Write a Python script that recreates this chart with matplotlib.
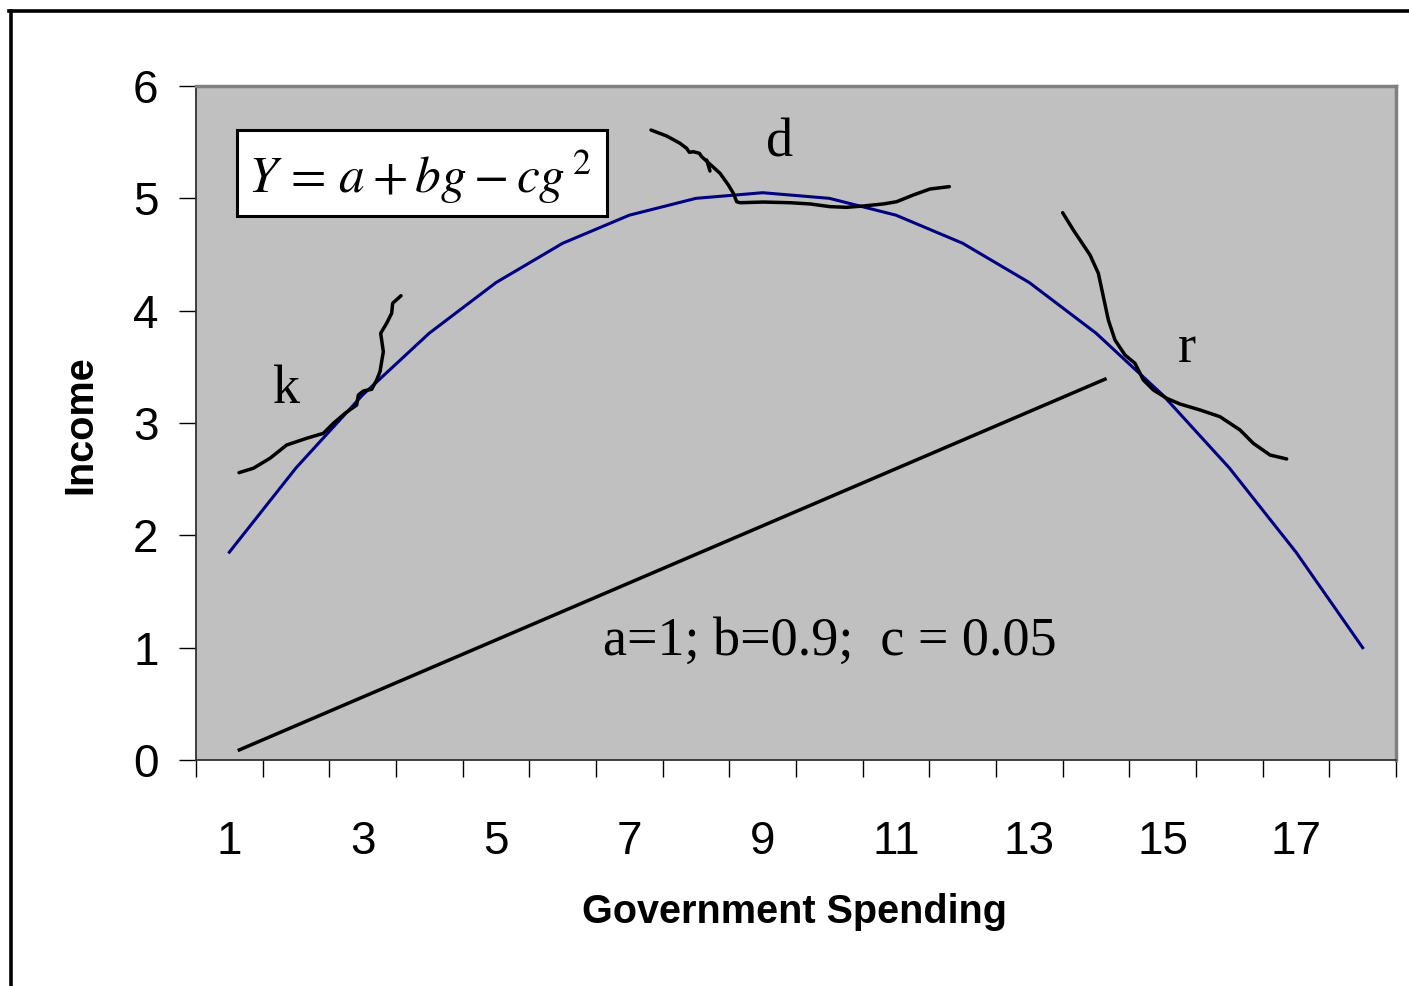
import matplotlib
matplotlib.use("Agg")
import matplotlib.pyplot as plt
from matplotlib.patches import Rectangle
from matplotlib.lines import Line2D

# ---- data ----
g_values = list(range(1, 19))
income = [1.85, 2.6, 3.25, 3.8, 4.25, 4.6, 4.85, 5.0, 5.05,
          5.0, 4.85, 4.6, 4.25, 3.8, 3.25, 2.6, 1.85, 1.0]
xtick_labels = ["1", "3", "5", "7", "9", "11", "13", "15", "17"]
xtick_pos = [1, 3, 5, 7, 9, 11, 13, 15, 17]
ytick_pos = [0, 1, 2, 3, 4, 5, 6]

line_x = [1.15, 14.135]
line_y = [0.09, 3.39]

k_x = [1.145, 1.36, 1.61, 1.86, 2.16, 2.41, 2.56, 2.735, 2.91, 2.935, 3.01,
       3.135, 3.21, 3.26, 3.31, 3.27, 3.36, 3.435, 3.45, 3.575]
k_y = [2.558, 2.597, 2.686, 2.804, 2.864, 2.908, 2.997, 3.086, 3.160, 3.249,
       3.285, 3.300, 3.383, 3.457, 3.635, 3.799, 3.888, 3.977, 4.066, 4.133]

d_x = [7.325, 7.56, 7.76, 7.86, 7.90, 7.96, 8.05, 8.085, 8.36, 8.485, 8.56,
       8.61, 8.66, 9.01, 9.41, 9.71, 10.01, 10.26, 10.51, 10.81, 11.01,
       11.26, 11.51, 11.80]
d_y = [5.608, 5.555, 5.490, 5.445, 5.410, 5.415, 5.401, 5.371, 5.223, 5.119,
       5.045, 4.970, 4.961, 4.967, 4.961, 4.950, 4.926, 4.920, 4.932, 4.950,
       4.970, 5.030, 5.083, 5.104]
d_spur_x = [8.16, 8.21]
d_spur_y = [5.341, 5.243]

r_x = [13.50, 13.66, 13.91, 14.035, 14.11, 14.185, 14.285, 14.435, 14.585,
       14.635, 14.71, 14.86, 15.06, 15.26, 15.56, 15.86, 16.16, 16.36,
       16.61, 16.86]
r_y = [4.872, 4.718, 4.496, 4.333, 4.125, 3.917, 3.739, 3.605, 3.531, 3.472,
       3.383, 3.294, 3.220, 3.169, 3.116, 3.056, 2.938, 2.819, 2.715, 2.680]

W, H = 1409, 986
plt.rcParams["mathtext.fontset"] = "stix"
fig = plt.figure(figsize=(W / 100, H / 100), dpi=100)
fig.patch.set_facecolor("white")

ax = fig.add_axes([196 / W, 1 - 760 / H, 1200 / W, 674 / H])
ax.set_facecolor("#C0C0C0")
ax.set_xlim(0.5, 18.5)
ax.set_ylim(0, 6)

ax.plot(g_values, income, color="#000080", lw=2.2, zorder=3)
ax.plot(line_x, line_y, color="black", lw=2.5, zorder=3)
for xs, ys in [(k_x, k_y), (d_x, d_y), (d_spur_x, d_spur_y), (r_x, r_y)]:
    ax.plot(xs, ys, color="black", lw=2.5, zorder=4,
            solid_capstyle="round", solid_joinstyle="round")

serif = ["Liberation Serif", "DejaVu Serif"]
ax.text(1.85, 3.178, "k", fontsize=39, family=serif, ha="center", va="baseline")
ax.text(9.26, 5.368, "d", fontsize=39, family=serif, ha="center", va="baseline")
ax.text(15.365, 3.543, "r", fontsize=39, family=serif, ha="center", va="baseline")
ax.text(6.605, 0.935, "a=1; b=0.9;  c = 0.05", fontsize=39, family=serif,
        ha="left", va="baseline")

# spines
for s in ["top", "right"]:
    ax.spines[s].set_color("#808080")
    ax.spines[s].set_linewidth(2.5)
for s in ["left", "bottom"]:
    ax.spines[s].set_color("#303030")
    ax.spines[s].set_linewidth(1.3)

ax.set_yticks(ytick_pos)
ax.set_yticklabels([str(v) for v in ytick_pos], fontsize=33, family="Liberation Sans")
ax.tick_params(axis="y", direction="out", length=12, width=1, pad=15, colors="black")

ax.set_xticks(xtick_pos)
ax.set_xticklabels(xtick_labels, fontsize=33, family="Liberation Sans")
ax.set_xticks([i + 0.5 for i in range(0, 19)], minor=True)
ax.tick_params(axis="x", which="major", length=0, pad=43)
ax.tick_params(axis="x", which="minor", direction="out", length=12, width=1)

# formula box
fig.patches.append(Rectangle((237 / W, 1 - 216 / H), 370 / W, 86 / H,
                             transform=fig.transFigure, facecolor="white",
                             edgecolor="black", lw=2.2, zorder=5))
fig.text(248 / W, 1 - 193 / H,
         r"$Y \,=\, a + bg - cg^{\,2}$", fontsize=37,
         ha="left", va="baseline", zorder=6)

fig.text(795 / W, 1 - 912 / H, "Government Spending", fontsize=28.5,
         fontweight="bold", family="Liberation Sans", ha="center", va="center")
fig.text(80 / W, 1 - 425 / H, "Income", fontsize=28.5, fontweight="bold",
         family="Liberation Sans", ha="center", va="center", rotation=90)

# outer frame
fig.lines.append(Line2D([10.5 / W, 10.5 / W], [0, 1 - 10.5 / H],
                        transform=fig.transFigure, color="black", lw=2.6))
fig.lines.append(Line2D([9 / W, 1], [1 - 10.5 / H, 1 - 10.5 / H],
                        transform=fig.transFigure, color="black", lw=2.6))

fig.savefig("out.png", dpi=100)
